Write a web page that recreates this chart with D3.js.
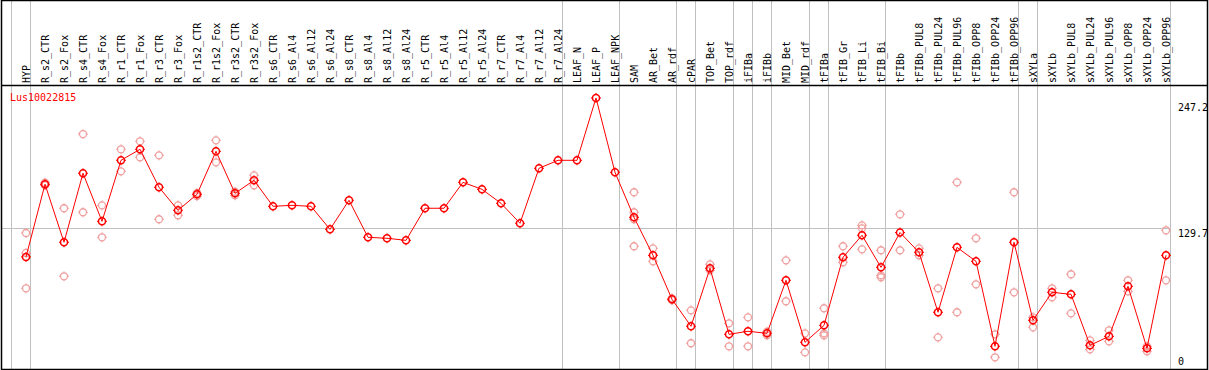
<!DOCTYPE html>
<html>
<head>
<meta charset="utf-8">
<script src="https://cdn.jsdelivr.net/npm/d3@7"></script>
<style>
  body { margin: 0; background: #fff; }
  svg { display: block; font-family: "DejaVu Sans Mono", monospace; }
</style>
</head>
<body>
<svg id="chart" width="1209" height="370"></svg>
<script>
// ---- DATA ----
const geneName = "Lus10022815";

const categories = [
  "HYP","R_s2_CTR","R_s2_Fox","R_s4_CTR","R_s4_Fox","R_r1_CTR","R_r1_Fox","R_r3_CTR","R_r3_Fox",
  "R_r1s2_CTR","R_r1s2_Fox","R_r3s2_CTR","R_r3s2_Fox","R_s6_CTR","R_s6_Al4","R_s6_Al12","R_s6_Al24",
  "R_s8_CTR","R_s8_Al4","R_s8_Al12","R_s8_Al24","R_r5_CTR","R_r5_Al4","R_r5_Al12","R_r5_Al24",
  "R_r7_CTR","R_r7_Al4","R_r7_Al12","R_r7_Al24","LEAF_N","LEAF_P","LEAF_NPK","SAM","AR_Bet","AR_rdf",
  "cPAR","TOP_Bet","TOP_rdf","iFIBa","iFIBb","MID_Bet","MID_rdf","tFIBa","tFIB_Gr","tFIB_Li","tFIB_Bi",
  "tFIBb","tFIBb_PUL8","tFIBb_PUL24","tFIBb_PUL96","tFIBb_OPP8","tFIBb_OPP24","tFIBb_OPP96",
  "sXYLa","sXYLb","sXYLb_PUL8","sXYLb_PUL24","sXYLb_PUL96","sXYLb_OPP8","sXYLb_OPP24","sXYLb_OPP96"
];

// number of categories in each sample group (grey separators between groups)
const groupSizes = [1, 28, 3, 3, 1, 2, 1, 1, 2, 1, 3, 7, 1, 7];

// mean expression per sample
const means = [
  102.8, 170.1, 116.4, 180.3, 135.8, 192.3, 202.5, 167.3, 146.0,
  160.8, 200.6, 161.7, 173.8, 149.7, 150.6, 149.7, 128.4,
  155.3, 121.0, 120.1, 118.2, 147.9, 147.9, 171.9, 165.4,
  152.5, 134.0, 184.9, 192.3, 192.3, 250.0, 181.2, 139.5, 104.3, 63.6,
  38.6, 92.3, 31.2, 34.0, 32.1, 81.2, 23.8, 39.5, 102.5, 122.9, 93.2,
  125.4, 107.1, 51.6, 111.7, 98.8, 20.1, 116.4,
  44.2, 70.1, 68.2, 21.0, 29.3, 75.6, 18.2, 104.3
];

// individual replicates (empty where none shown)
const replicates = [
  [125.0, 106.5, 73.8], [171.5, 169.5, 169.3], [147.9, 84.9], [216.6, 144.2], [150.6, 121.0],
  [202.5, 182.1], [209.9, 195.1], [196.9, 137.7], [150.6, 141.4],
  [162.0, 159.2], [210.8, 190.4], [163.2, 159.9], [178.4, 169.2],
  [], [], [], [], [], [], [], [], [], [], [], [], [], [], [], [], [], [], [],
  [162.7, 144.2, 137.7, 112.7], [110.8, 98.8], [64.5, 62.8],
  [53.4, 22.9], [96.0, 90.5], [41.4, 20.1], [46.9, 20.1], [33.6, 30.3], [99.7, 61.8], [32.1, 14.5],
  [55.3, 32.1, 30.3], [112.7, 97.9], [132.1, 129.3, 109.9], [109.0, 85.8, 84.0],
  [142.3, 109.0], [110.8, 104.3], [73.8, 28.4], [171.9, 51.6], [120.1, 77.5], [31.2, 9.9], [162.7, 70.1],
  [46.9, 37.7], [73.8, 65.5], [86.8, 50.6], [25.6, 17.3], [34.9, 24.7], [81.2, 71.0], [20.1, 15.5], [127.5, 81.2]
];

const yTicks = [0, 129.7, 247.2];

// ---- LAYOUT ----
const W = 1209, H = 370;
const headerH = 85, plotRight = 1170, frameRight = 1207.5;

const svg = d3.select("#chart");

const x = d3.scaleBand().domain(categories).range([11, plotRight]).padding(0);
const px = c => x(c) + 15;
const y = d3.scaleLinear().domain([0, 247.2]).range([368, 101]);

// grey group separators
const breaks = [0];
groupSizes.reduce((acc, n) => { acc += n; breaks.push(acc); return acc; }, 0);
svg.append("g")
  .selectAll("line")
  .data(breaks)
  .join("line")
  .attr("x1", k => Math.round(11 + k * x.step()) + 0.5)
  .attr("x2", k => Math.round(11 + k * x.step()) + 0.5)
  .attr("y1", 0).attr("y2", H)
  .attr("stroke", "#c0c0c0").attr("stroke-width", 1);

// mid reference line
svg.append("line")
  .attr("x1", 1).attr("x2", plotRight)
  .attr("y1", Math.round(y(yTicks[1])) + 0.5).attr("y2", Math.round(y(yTicks[1])) + 0.5)
  .attr("stroke", "#c0c0c0");

// frame
svg.append("path")
  .attr("d", `M1.5,0.5H${frameRight}V369.5H1.5Z M1.5,${headerH + 0.5}H${frameRight}`)
  .attr("fill", "none").attr("stroke", "#000").attr("stroke-width", 1.5);

// rotated sample labels
svg.append("g")
  .selectAll("text")
  .data(categories)
  .join("text")
  .attr("transform", c => `translate(${px(c) + 4},83) rotate(-90)`)
  .attr("font-size", 10)
  .attr("fill", "#000")
  .text(c => c);

// y labels on the right
svg.append("g")
  .selectAll("text")
  .data(yTicks)
  .join("text")
  .attr("x", 1178)
  .attr("y", v => v === 0 ? 365 : y(v) + 9.5)
  .attr("font-size", 10)
  .attr("fill", "#000")
  .text(v => v);

// gene label
svg.append("text")
  .attr("x", 10).attr("y", 101)
  .attr("font-size", 10)
  .attr("fill", "#ff0000")
  .text(geneName);

// marker shape: circle with small ticks
const tick = "M0,-5V-3M0,3V5M-5,0H-3M3,0H5";
function marker(g, color, sw) {
  g.append("circle").attr("r", 3.5).attr("fill", "none").attr("stroke", color).attr("stroke-width", sw);
  g.append("path").attr("d", tick).attr("stroke", color).attr("stroke-width", 1);
}

// replicates
const repPts = [];
categories.forEach((c, i) => replicates[i].forEach(v => repPts.push({ c, v })));
svg.append("g")
  .selectAll("g")
  .data(repPts)
  .join("g")
  .attr("transform", d => `translate(${px(d.c)},${y(d.v)})`)
  .each(function() { marker(d3.select(this), "#f0a0a0", 1.3); });

// mean line
const line = d3.line().x((d, i) => px(categories[i])).y(d => y(d));
svg.append("path")
  .datum(means)
  .attr("d", line)
  .attr("fill", "none")
  .attr("stroke", "#ff0000")
  .attr("stroke-width", 1);

// mean markers
svg.append("g")
  .selectAll("g")
  .data(means)
  .join("g")
  .attr("transform", (d, i) => `translate(${px(categories[i])},${y(d)})`)
  .each(function() { marker(d3.select(this), "#ff0000", 1.5); });
</script>
</body>
</html>
